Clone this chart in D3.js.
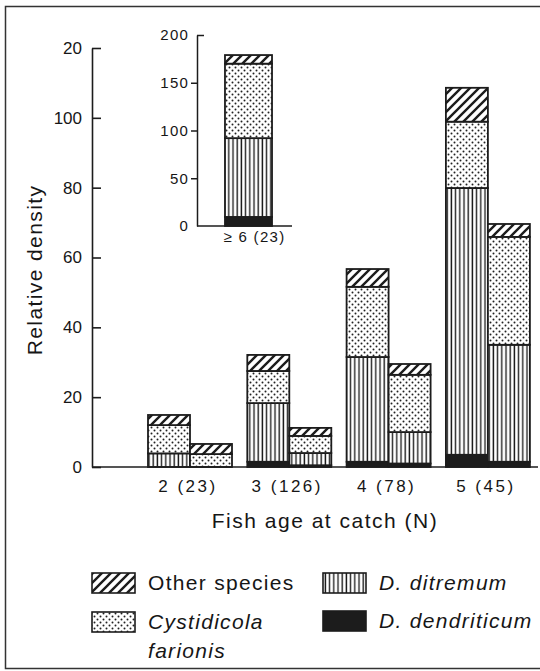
<!DOCTYPE html>
<html>
<head>
<meta charset="utf-8">
<title>Relative density by fish age</title>
<script src="https://cdn.jsdelivr.net/npm/d3@7"></script>
<style>
  body { margin: 0; background: #fff; }
  svg text { font-family: "Liberation Sans", Arial, sans-serif; fill: #161616; }
</style>
</head>
<body>
<svg id="chart" width="540" height="671"></svg>
<script>
// values (segment heights, bottom to top)
var ages = ["2 (23)", "3 (126)", "4 (78)", "5 (45)"];
var pairs = ["a", "b"];
var dendriticum = [0, 0, 1.5, 0.5, 1.5, 1.0, 3.5, 1.5];
var ditremum    = [3.9, 0, 16.8, 3.5, 30.0, 9.0, 76.4, 33.5];
var cystidicola = [8.1, 3.7, 9.2, 4.9, 20.1, 16.4, 19.0, 30.9];
var other       = [2.9, 2.9, 4.6, 2.3, 5.1, 3.1, 9.7, 3.7];
var yTicks = [0, 20, 40, 60, 80, 100, 120];
var yTickLabels = ["0", "20", "40", "60", "80", "100", "20"];

var insetCats = ["\u2265 6 (23)"];
var insetDend = [9.5];
var insetDit = [82.5];
var insetCyst = [78];
var insetOther = [9];
var insetTicks = [0, 50, 100, 150, 200];

var keys = ["dend", "dit", "cyst", "other"];
var fills = { dend: "#1c1c1c", dit: "url(#vert)", cyst: "url(#dots)", other: "url(#hatch)" };

var svg = d3.select("#chart");

// patterns
var defs = svg.append("defs");
var p = defs.append("pattern").attr("id", "hatch").attr("patternUnits", "userSpaceOnUse")
  .attr("width", 9).attr("height", 9);
p.append("rect").attr("width", 9).attr("height", 9).attr("fill", "#fff");
p.append("path").attr("d", "M-1,10 L10,-1 M-5,5 L5,-5 M4,14 L14,4").attr("stroke", "#1c1c1c").attr("stroke-width", 2.4);
p = defs.append("pattern").attr("id", "dots").attr("patternUnits", "userSpaceOnUse")
  .attr("width", 6).attr("height", 6);
p.append("rect").attr("width", 6).attr("height", 6).attr("fill", "#fff");
p.append("circle").attr("cx", 1.5).attr("cy", 1.5).attr("r", 1).attr("fill", "#222");
p.append("circle").attr("cx", 4.5).attr("cy", 4.5).attr("r", 1).attr("fill", "#222");
p = defs.append("pattern").attr("id", "vert").attr("patternUnits", "userSpaceOnUse")
  .attr("width", 4.2).attr("height", 4);
p.append("rect").attr("width", 4.2).attr("height", 4).attr("fill", "#fff");
p.append("line").attr("x1", 2).attr("x2", 2).attr("y1", 0).attr("y2", 4).attr("stroke", "#1c1c1c").attr("stroke-width", 1.4);

// frame
svg.append("rect").attr("x", 5.5).attr("y", 6.5).attr("width", 545).attr("height", 662)
  .attr("fill", "none").attr("stroke", "#333").attr("stroke-width", 1.5);

// main chart
var axisX = 92, xEnd = 538;
var x = d3.scaleBand().domain(ages).range([140.35, 537.55]).paddingInner(0.154).paddingOuter(0.077);
var xs = d3.scaleBand().domain(pairs).range([0, x.bandwidth()]);
var y = d3.scaleLinear().domain([0, 120]).range([467, 48]);

var rows = ages.flatMap(function (a, i) {
  return pairs.map(function (pp, j) {
    var k = i * 2 + j;
    return { age: a, pair: pp, dend: dendriticum[k], dit: ditremum[k], cyst: cystidicola[k], other: other[k] };
  });
});
var stack = d3.stack().keys(keys)(rows);

svg.append("g").selectAll("g").data(stack).join("g")
  .attr("fill", function (d) { return fills[d.key]; })
  .selectAll("rect").data(function (d) { return d.filter(function (s) { return s[1] > s[0]; }); }).join("rect")
  .attr("x", function (d) { return x(d.data.age) + xs(d.data.pair); })
  .attr("width", xs.bandwidth())
  .attr("y", function (d) { return y(d[1]); })
  .attr("height", function (d) { return y(d[0]) - y(d[1]); })
  .attr("stroke", "#1c1c1c").attr("stroke-width", 1.8);

var yAxis = svg.append("g").attr("transform", "translate(" + axisX + ",0)")
  .call(d3.axisLeft(y).tickValues(yTicks).tickFormat(function (d, i) { return yTickLabels[i]; })
    .tickSizeInner(-9).tickSizeOuter(0).tickPadding(10));
yAxis.selectAll("path, line").attr("stroke", "#1c1c1c").attr("stroke-width", 1.6);
yAxis.selectAll("text").style("font-size", "17px").style("fill", "#161616");

svg.append("line").attr("x1", axisX).attr("x2", xEnd).attr("y1", y(0)).attr("y2", y(0))
  .attr("stroke", "#1c1c1c").attr("stroke-width", 1.7);

svg.append("g").selectAll("text").data(ages).join("text")
  .attr("x", function (d) { return x(d) + x.bandwidth() / 2 - 2; })
  .attr("y", 492).attr("text-anchor", "middle")
  .style("font-size", "17px").style("letter-spacing", "2.5px")
  .text(function (d) { return d; });

svg.append("text").attr("x", 325).attr("y", 528).attr("text-anchor", "middle")
  .style("font-size", "21px").style("letter-spacing", "1.5px")
  .text("Fish age at catch (N)");

svg.append("text").attr("transform", "translate(42,270) rotate(-90)").attr("text-anchor", "middle")
  .style("font-size", "21px").style("letter-spacing", "1.4px")
  .text("Relative density");

// inset
var iAxisX = 197, iEnd = 292;
var ix = d3.scaleBand().domain(insetCats).range([197, 300]).padding(0.373);
var iy = d3.scaleLinear().domain([0, 200]).range([226, 35]);
var irows = insetCats.map(function (c, i) {
  return { cat: c, dend: insetDend[i], dit: insetDit[i], cyst: insetCyst[i], other: insetOther[i] };
});
var istack = d3.stack().keys(keys)(irows);
svg.append("g").selectAll("g").data(istack).join("g")
  .attr("fill", function (d) { return fills[d.key]; })
  .selectAll("rect").data(function (d) { return d; }).join("rect")
  .attr("x", function (d) { return ix(d.data.cat); })
  .attr("width", ix.bandwidth())
  .attr("y", function (d) { return iy(d[1]); })
  .attr("height", function (d) { return iy(d[0]) - iy(d[1]); })
  .attr("stroke", "#1c1c1c").attr("stroke-width", 1.8);

var iAxis = svg.append("g").attr("transform", "translate(" + iAxisX + ",0)")
  .call(d3.axisLeft(iy).tickValues(insetTicks).tickSizeInner(6).tickSizeOuter(0).tickPadding(2));
iAxis.selectAll("path, line").attr("stroke", "#1c1c1c").attr("stroke-width", 1.5);
iAxis.selectAll(".tick").filter(function (d) { return d === 200; }).select("line").attr("x2", 7);
iAxis.selectAll(".tick").filter(function (d) { return d === 0; }).select("line").remove();
iAxis.selectAll("text").style("font-size", "15px").style("letter-spacing", "1.2px").style("fill", "#161616");

svg.append("line").attr("x1", iAxisX).attr("x2", iEnd).attr("y1", iy(0)).attr("y2", iy(0))
  .attr("stroke", "#1c1c1c").attr("stroke-width", 1.6);

svg.append("g").selectAll("text").data(insetCats).join("text")
  .attr("x", function (d) { return ix(d) + ix.bandwidth() / 2 + 6; })
  .attr("y", 242).attr("text-anchor", "middle")
  .style("font-size", "15px").style("letter-spacing", "1.3px")
  .text(function (d) { return d; });

// legend
var legend = [
  { key: "other", x: 92, y: 573, lines: ["Other species"], italic: false },
  { key: "dit", x: 323, y: 573, lines: ["D. ditremum"], italic: true },
  { key: "cyst", x: 92, y: 612, lines: ["Cystidicola", "farionis"], italic: true },
  { key: "dend", x: 323, y: 611, lines: ["D. dendriticum"], italic: true }
];
var lg = svg.append("g").selectAll("g").data(legend).join("g");
lg.append("rect").attr("x", function (d) { return d.x; }).attr("y", function (d) { return d.y; })
  .attr("width", 43).attr("height", 20)
  .attr("fill", function (d) { return fills[d.key]; })
  .attr("stroke", "#1c1c1c").attr("stroke-width", 1.6);
lg.each(function (d) {
  var g = d3.select(this);
  d.lines.forEach(function (t, i) {
    g.append("text").attr("x", d.x + 56).attr("y", d.y + 17 + i * 29)
      .style("font-size", "21px").style("letter-spacing", "1.3px")
      .style("font-style", d.italic ? "italic" : "normal")
      .text(t);
  });
});
</script>
</body>
</html>
